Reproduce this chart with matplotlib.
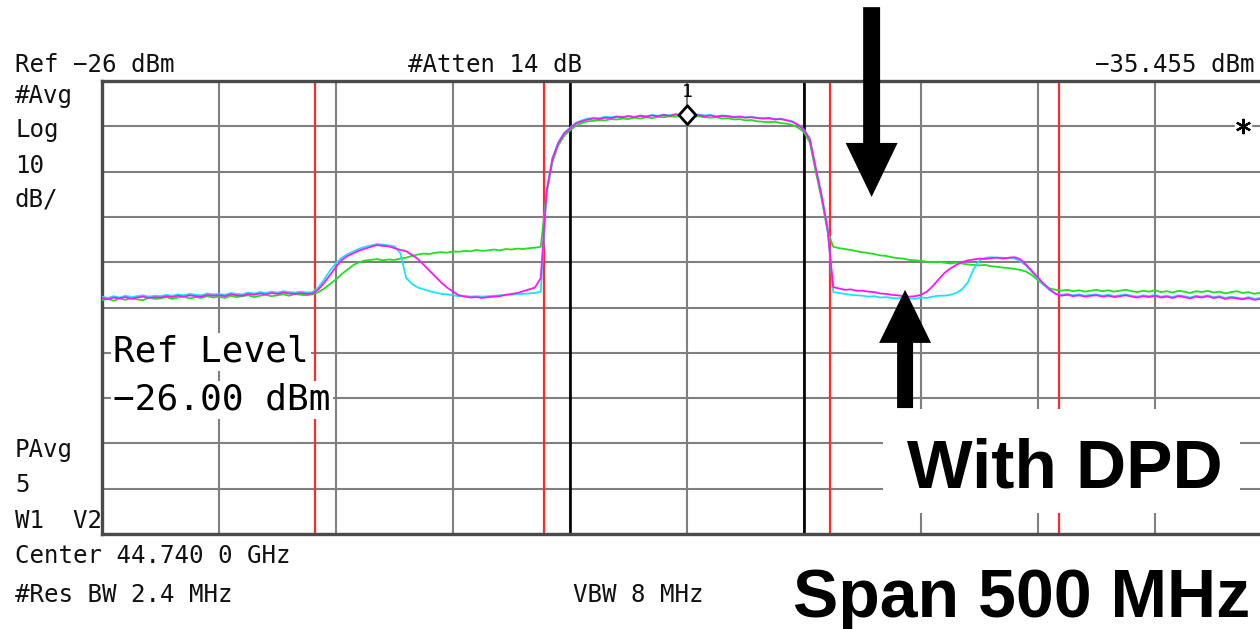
import matplotlib
matplotlib.use("Agg")
import matplotlib.pyplot as plt
from matplotlib.patches import Rectangle
from matplotlib.path import Path
import numpy as np

# sweep offsets from the 44.74 GHz centre, 500 MHz span, 2.5 MHz per point
freq_mhz = np.arange(-250.0, 250.1, 2.5)

# averaged traces in dBm
trace_green = [
    -74.4, -74.1, -74.5, -74.0, -74.3, -73.9, -74.2, -74.4, -73.8, -74.1,
    -74.0, -73.7, -74.1, -73.8, -73.6, -74.0, -73.7, -73.9, -73.5, -73.8,
    -73.6, -73.9, -73.4, -73.7, -73.5, -73.3, -73.7, -73.4, -73.2, -73.5,
    -73.3, -73.1, -73.4, -73.0, -73.2, -73.3, -73.1, -72.6, -71.8, -70.8,
    -69.8, -68.6, -67.6, -66.6, -66.0, -65.6, -65.5, -65.3, -65.6, -65.4,
    -65.5, -65.2, -65.0, -64.6, -64.3, -64.1, -64.2, -63.9, -63.8, -63.9,
    -63.6, -63.7, -63.5, -63.6, -63.3, -63.5, -63.4, -63.2, -63.4, -63.1,
    -63.2, -63.0, -63.1, -62.9, -62.8, -62.6, -50.8, -43.8, -40.2, -38.1,
    -36.9, -35.9, -35.3, -34.9, -34.8, -34.6, -34.7, -34.4, -34.5, -34.3,
    -34.4, -34.1, -34.3, -34.0, -34.2, -33.9, -34.0, -33.8, -33.9, -33.7,
    -33.6, -33.9, -33.8, -34.0, -34.1, -34.0, -34.3, -34.2, -34.5, -34.4,
    -34.7, -34.6, -34.9, -35.0, -35.1, -35.0, -35.3, -35.4, -35.7, -36.3,
    -37.3, -39.6, -46.0, -52.0, -59.0, -62.6, -62.9, -63.1, -63.3, -63.6,
    -63.8, -64.0, -64.2, -64.5, -64.6, -64.9, -65.1, -65.2, -65.5, -65.6,
    -65.7, -65.9, -66.0, -65.9, -66.1, -66.3, -66.1, -66.3, -66.5, -66.6,
    -66.7, -66.6, -66.9, -67.0, -67.2, -67.3, -67.5, -67.7, -68.1, -68.9,
    -70.0, -71.0, -71.8, -72.1, -72.3, -72.1, -72.4, -72.2, -72.5, -72.3,
    -72.1, -72.4, -72.2, -72.5, -72.3, -72.1, -72.4, -72.6, -72.3, -72.5,
    -72.2, -72.6, -72.4, -72.7, -72.3, -72.5, -72.8, -72.4, -72.6, -72.3,
    -72.7, -72.5, -72.9, -72.6, -72.4, -72.8, -72.6, -73.0, -72.7, -72.9,
    -72.8,
]

trace_cyan = [
    -73.6, -73.9, -73.5, -73.8, -73.4, -73.7, -73.5, -73.3, -73.6, -73.4,
    -73.5, -73.2, -73.4, -73.1, -73.3, -73.0, -73.2, -73.3, -72.9, -73.1,
    -73.0, -73.2, -72.8, -73.0, -73.1, -72.7, -72.9, -72.6, -72.8, -72.5,
    -72.7, -72.4, -72.6, -72.7, -72.5, -72.7, -72.6, -71.5, -69.8, -67.8,
    -66.2, -65.0, -64.2, -63.6, -63.0, -62.6, -62.3, -62.0, -62.1, -62.3,
    -62.5, -64.0, -69.5, -70.8, -71.6, -72.0, -72.4, -72.7, -73.0, -73.1,
    -73.3, -73.5, -73.4, -73.6, -73.5, -73.6, -73.5, -73.4, -73.3, -73.2,
    -73.2, -73.0, -73.0, -72.9, -72.8, -72.5, -50.2, -43.0, -39.5, -37.4,
    -36.3, -35.2, -34.7, -34.3, -34.1, -34.2, -33.9, -34.0, -33.8, -33.9,
    -33.7, -33.9, -33.6, -33.8, -33.5, -33.7, -33.4, -33.6, -33.3, -33.5,
    -33.3, -33.5, -33.4, -33.6, -33.5, -33.8, -33.6, -33.7, -33.9, -33.8,
    -34.0, -33.9, -34.1, -34.2, -34.1, -34.4, -34.3, -34.6, -34.9, -35.6,
    -36.7, -38.7, -45.0, -51.0, -58.2, -72.6, -72.8, -73.0, -73.2, -73.3,
    -73.4, -73.6, -73.5, -73.8, -73.7, -73.9, -74.0, -73.8, -74.0, -74.1,
    -73.8, -73.9, -73.6, -73.4, -73.4, -73.2, -72.8, -72.0, -70.5, -67.5,
    -65.6, -65.0, -64.9, -65.0, -65.0, -65.1, -65.2, -65.8, -66.8, -68.2,
    -69.6, -71.0, -72.2, -72.9, -73.2, -73.0, -73.3, -73.1, -73.4, -73.2,
    -73.1, -73.4, -73.2, -73.5, -73.3, -73.1, -73.4, -73.6, -73.3, -73.5,
    -73.2, -73.6, -73.4, -73.7, -73.3, -73.5, -73.8, -73.4, -73.6, -73.3,
    -73.7, -73.5, -73.9, -73.6, -73.8, -74.0, -73.7, -74.1, -73.9, -74.2,
    -74.0,
]

trace_magenta = [
    -73.9, -74.2, -73.8, -74.0, -73.7, -74.1, -73.8, -73.6, -73.9, -73.7,
    -73.8, -73.5, -73.7, -73.4, -73.6, -73.3, -73.5, -73.6, -73.2, -73.4,
    -73.3, -73.5, -73.1, -73.3, -73.4, -73.0, -73.2, -72.9, -73.1, -72.8,
    -73.0, -72.7, -72.9, -73.0, -72.8, -73.0, -72.9, -72.0, -70.5, -68.8,
    -67.0, -65.5, -64.6, -64.0, -63.4, -63.0, -62.6, -62.2, -62.4, -62.5,
    -62.9, -63.3, -63.6, -64.4, -65.3, -66.6, -67.9, -69.2, -70.5, -71.6,
    -72.5, -73.3, -73.6, -73.8, -73.7, -73.9, -73.7, -73.6, -73.5, -73.2,
    -73.0, -72.8, -72.4, -72.0, -71.6, -69.5, -50.4, -43.2, -39.7, -37.6,
    -36.5, -35.4, -34.9, -34.5, -34.3, -34.4, -34.1, -34.2, -33.9, -34.0,
    -33.8, -34.0, -33.7, -33.9, -33.6, -33.8, -33.5, -33.7, -33.4, -33.6,
    -33.4, -33.6, -33.5, -33.8, -33.6, -33.9, -33.7, -33.8, -34.0, -33.9,
    -34.1, -34.0, -34.2, -34.3, -34.2, -34.5, -34.4, -34.7, -35.0, -35.7,
    -36.8, -38.9, -45.2, -51.3, -58.4, -71.5, -71.8, -72.1, -72.0, -72.3,
    -72.3, -72.5, -72.6, -72.9, -73.0, -73.2, -73.3, -73.5, -73.6, -73.5,
    -73.2, -72.5, -71.3, -69.8, -68.4, -67.4, -66.6, -66.0, -65.6, -65.4,
    -65.2, -65.3, -65.1, -65.0, -65.2, -65.0, -64.9, -65.4, -66.6, -68.0,
    -69.4, -70.8, -72.0, -73.0, -73.4, -73.2, -73.5, -73.3, -73.6, -73.4,
    -73.3, -73.6, -73.4, -73.7, -73.5, -73.3, -73.6, -73.8, -73.5, -73.7,
    -73.4, -73.8, -73.6, -73.9, -73.5, -73.7, -74.0, -73.6, -73.8, -73.5,
    -73.9, -73.7, -74.1, -73.8, -74.0, -74.2, -73.9, -74.3, -74.1, -74.4,
    -74.2,
]

channel_edges = [-50, 50]
adjacent_edges = [-159, -61, 61, 159]
marker_freq = 0.0
marker_level = -35.455
ref_level = -26
db_per_div = 10

W, H = 1260, 629
MONO = "DejaVu Sans Mono"
BOLD = "Liberation Sans"
MINUS = "\u2212"


def fx(x):
    return x / W


def fy(y):
    return 1 - y / H


fig = plt.figure(figsize=(W / 100, H / 100), dpi=100)
fig.patch.set_facecolor("white")

# graticule: 10 x 10 divisions, right edge runs off the screen grab
ax = fig.add_axes([fx(102), fy(534), 1170 / W, 453 / H])
ax.set_xlim(-250, 250)
ax.set_ylim(ref_level - 10 * db_per_div, ref_level)
ax.set_xticks(np.arange(-250, 251, 50))
ax.set_yticks(np.arange(ref_level - 10 * db_per_div, ref_level + 1, db_per_div))
ax.tick_params(length=0, labelbottom=False, labelleft=False)
ax.grid(True, color="#7f7f7f", lw=1.5)
ax.set_axisbelow(True)
for s in ax.spines.values():
    s.set_color("#4a4a4a")
    s.set_linewidth(2.4)

for f in adjacent_edges:
    ax.axvline(f, color="#ff2a2a", lw=1.6, zorder=2)
for f in channel_edges:
    ax.axvline(f, color="black", lw=1.9, zorder=2)

ax.plot(freq_mhz, trace_green, color="#1fe01f", lw=1.3, zorder=4)
ax.plot(freq_mhz, trace_cyan, color="#14e6ff", lw=1.3, zorder=4)
ax.plot(freq_mhz, trace_magenta, color="#ff14ff", lw=1.3, zorder=4)

# marker 1: diamond sits on top of the trace point
diamond = Path([(0, 0), (0.9, 1), (0, 2), (-0.9, 1), (0, 0)],
               [Path.MOVETO, Path.LINETO, Path.LINETO, Path.LINETO, Path.CLOSEPOLY])
ax.plot([marker_freq], [marker_level], marker=diamond, ms=27, mfc="white",
        mec="black", mew=2.0, zorder=6, clip_on=False)
ax.annotate("1", xy=(marker_freq, marker_level), xytext=(0, 19),
            textcoords="offset points", ha="center", va="baseline",
            fontsize=13, family=MONO, zorder=6)

# reference-level flag on the right
ax.plot([237.6], [-36], marker="s", ms=11, mfc="white", mec="white", zorder=5, clip_on=False)
ax.plot([237.6], [-36], marker=(6, 2, 0), ms=11, mec="black", mew=1.6, zorder=6, clip_on=False)

# mask behind the annotation label
ax.add_patch(Rectangle((83.8, -121.4), 152.5, 23.0, fc="white", ec="none", zorder=5))

ax.annotate("", xy=(78.9, -51.6), xytext=(78.9, -9.7), annotation_clip=False,
            arrowprops=dict(arrowstyle="simple,head_length=38.9,head_width=37.4,tail_width=12.2",
                            mutation_scale=1, color="black", lw=0, shrinkA=0, shrinkB=0),
            zorder=7)
ax.annotate("", xy=(93.2, -72.1), xytext=(93.2, -98.2), annotation_clip=False,
            arrowprops=dict(arrowstyle="simple,head_length=38.2,head_width=37.4,tail_width=11.5",
                            mutation_scale=1, color="black", lw=0, shrinkA=0, shrinkB=0),
            zorder=7)

# analyzer annotations
small = dict(fontsize=17.4, family=MONO, va="baseline", color="#111111")
fig.text(fx(15), fy(72), f"Ref {MINUS}26 dBm", **small)
fig.text(fx(408), fy(72), "#Atten 14 dB", **small)
fig.text(fx(1095), fy(72), f"{MINUS}{abs(marker_level):.3f} dBm", **small)
for label, yb in [("#Avg", 103), ("Log", 137), ("10", 173), ("dB/", 207),
                  ("PAvg", 457), ("5", 492), ("W1  V2", 528)]:
    fig.text(fx(15), fy(yb), label, **small)
fig.text(fx(15), fy(563), "Center 44.740 0 GHz", **small)
fig.text(fx(15), fy(602), "#Res BW 2.4 MHz", **small)
fig.text(fx(573), fy(602), "VBW 8 MHz", **small)

big = dict(fontsize=26, family=MONO, va="baseline", color="black",
           bbox=dict(fc="white", ec="none", pad=1.5), zorder=8)
fig.text(fx(113), fy(362), "Ref Level", **big)
fig.text(fx(113), fy(410), f"{MINUS}26.00 dBm", **big)

fig.text(fx(907), fy(488), "With DPD", fontsize=50, family=BOLD,
         weight="bold", va="baseline", zorder=8)
fig.text(fx(793), fy(617), "Span 500 MHz", fontsize=49, family=BOLD,
         weight="bold", va="baseline", zorder=8)

fig.savefig("out.png", dpi=100, facecolor="white")
